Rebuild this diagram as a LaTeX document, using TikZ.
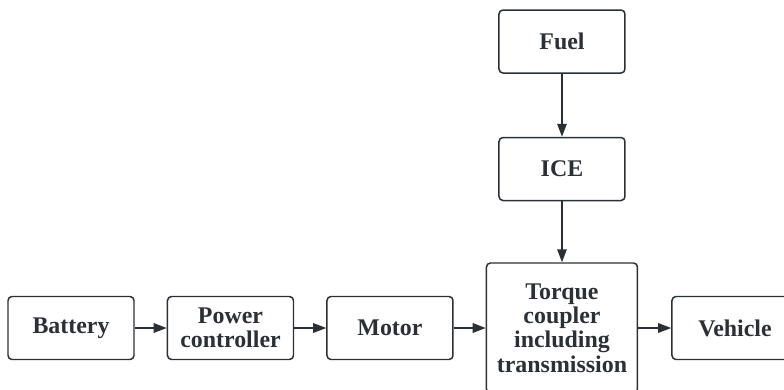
\documentclass[tikz,border=0pt]{standalone}
\usepackage{fontspec}
\setmainfont{Liberation Serif}
\usepackage{tikz}
\usetikzlibrary{arrows.meta, positioning}
\definecolor{BoxGray}{HTML}{2B2F36}

\begin{document}
\begin{tikzpicture}[
  block/.style={draw=BoxGray, line width=0.85pt, rounded corners=0.08cm,
    minimum width=2.52cm, minimum height=1.26cm, inner sep=0pt, align=center,
    text=BoxGray, font=\fontsize{13.6}{13.9}\selectfont\bfseries},
  flow/.style={draw=BoxGray, line width=0.85pt,
    -{Triangle[length=0.26cm, width=0.19cm]}}
]
  % frame of the picture
  \useasboundingbox (0,0) rectangle (15.68,-7.8);
  \clip (0,0) rectangle (15.68,-7.8);
  % lower row
  \node[block] (battery) at (1.42,-6.56) {Battery};
  \node[block, right=0.64cm of battery] (control) {Power\\controller};
  \node[block, right=0.64cm of control] (motor) {Motor};
  \node[block, right=0.64cm of motor, minimum width=3.02cm, minimum height=2.6cm] (coupler)
    {Torque\\coupler\\including\\transmission};
  \node[block, right=0.66cm of coupler] (vehicle) {Vehicle};
  % engine branch
  \node[block, above=1.22cm of coupler] (ice) {ICE};
  \node[block, above=1.26cm of ice] (fuel) {Fuel};
  % arrows
  \draw[flow] (battery) -- (control);
  \draw[flow] (control) -- (motor);
  \draw[flow] (motor) -- (coupler);
  \draw[flow] (coupler) -- (vehicle);
  \draw[flow] (fuel) -- (ice);
  \draw[flow] (ice) -- (coupler);
\end{tikzpicture}
\end{document}
